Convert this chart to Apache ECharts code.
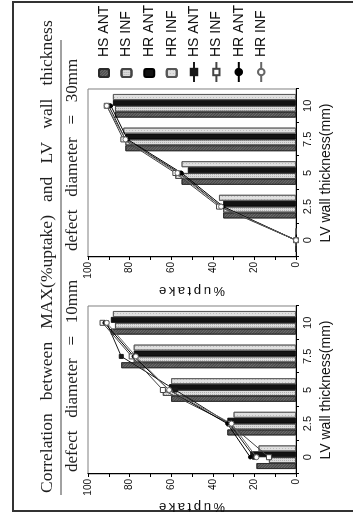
<!DOCTYPE html>
<html>
<head>
<meta charset="utf-8">
<script src="https://cdn.jsdelivr.net/npm/echarts@6/dist/echarts.min.js"></script>
<style>
  html, body { margin: 0; padding: 0; background: #fff; overflow: hidden; width: 353px; height: 515px; }
  /* the figure is laid out landscape and turned a quarter turn to stand upright on the page */
  #page { position: absolute; left: 0; top: 0; width: 515px; height: 353px;
          transform-origin: 0 0; transform: translateY(515px) rotate(-90deg); }
</style>
</head>
<body>
<div id="page"></div>
<script>
// LV wall thickness categories (mm)
const thickness = ['0', '2.5', '5', '7.5', '10'];
const valueLabels = [0, 20, 40, 60, 80, 100];
const groupNames = ['HS ANT', 'HS INF', 'HR ANT', 'HR INF'];

// defect diameter = 10mm : bars
const barHsAnt10 = [19, 33, 60, 84, 89];
const barHsInf10 = [13, 31, 64, 78, 87];
const barHrAnt10 = [22, 33, 61, 78, 89];
const barHrInf10 = [18, 30, 60, 78, 88];
// defect diameter = 10mm : lines
const lineHsAnt10 = [20, 32, 58, 84, 91];
const lineHsInf10 = [13, 32, 64, 79, 93];
const lineHrAnt10 = [22, 33, 61, 78, 92];
const lineHrInf10 = [19, 31, 61, 77, 91];

// defect diameter = 30mm : bars
const barHsAnt30 = [0, 35, 55, 82, 87];
const barHsInf30 = [0, 35, 58, 82, 87];
const barHrAnt30 = [0, 35, 52, 82, 88];
const barHrInf30 = [0, 37, 55, 83, 88];
// defect diameter = 30mm : lines
const lineHsAnt30 = [0, 36, 56, 82, 90];
const lineHsInf30 = [0, 37, 58, 83, 91];
const lineHrAnt30 = [0, 35, 55, 81, 89];
const lineHrInf30 = [0, 36, 57, 82, 91];

const SANS = "'Liberation Sans Narrow', 'Liberation Sans', Arial, sans-serif";
const SERIF = "'Liberation Serif', 'Times New Roman', serif";

const barStyles = [
  { color: '#6e6e6e', borderColor: '#2a2a2a', borderWidth: 0.8,
    decal: { symbol: 'rect', symbolSize: 1, dashArrayX: [1, 0], dashArrayY: [1, 1], rotation: Math.PI / 4, color: 'rgba(20,20,20,0.45)' } },
  { color: '#dcdcdc', borderColor: '#444', borderWidth: 0.8,
    decal: { symbol: 'rect', symbolSize: 1, dashArrayX: [1, 1], dashArrayY: [1, 1], color: 'rgba(80,80,80,0.3)' } },
  { color: '#121212', borderColor: '#000', borderWidth: 0.8 },
  { color: '#e0e0e0', borderColor: '#555', borderWidth: 0.8,
    decal: { symbol: 'rect', symbolSize: 1, dashArrayX: [1, 2], dashArrayY: [1, 2], color: 'rgba(110,110,110,0.3)' } }
];

const lineLooks = [
  { symbol: 'rect', symbolSize: 4, color: '#1a1a1a', fill: '#1a1a1a' },
  { symbol: 'rect', symbolSize: 5, color: '#444', fill: '#fff' },
  { symbol: 'circle', symbolSize: 3.5, color: '#000', fill: '#000' },
  { symbol: 'circle', symbolSize: 5, color: '#666', fill: '#fff' }
];

const barData = [
  [barHsAnt10, barHsInf10, barHrAnt10, barHrInf10],
  [barHsAnt30, barHsInf30, barHrAnt30, barHrInf30]
];
const lineData = [
  [lineHsAnt10, lineHsInf10, lineHrAnt10, lineHrInf10],
  [lineHsAnt30, lineHsInf30, lineHrAnt30, lineHrInf30]
];

const series = [];
[0, 1].forEach(function (g) {
  groupNames.forEach(function (name, i) {
    series.push({
      type: 'bar', name: name, xAxisIndex: g, yAxisIndex: g,
      data: barData[g][i], barGap: '0%', barCategoryGap: '30%',
      itemStyle: barStyles[i], silent: true, z: 2
    });
  });
});
[0, 1].forEach(function (g) {
  groupNames.forEach(function (name, i) {
    const look = lineLooks[i];
    series.push({
      type: 'line', name: name + ' line', xAxisIndex: g, yAxisIndex: g,
      data: lineData[g][i], symbol: look.symbol, symbolSize: look.symbolSize,
      showSymbol: true,
      lineStyle: { color: look.color, width: 1 },
      itemStyle: { color: look.fill, borderColor: look.color, borderWidth: 1 },
      silent: true, z: 5
    });
  });
});

function grid(left) {
  return { left: left, top: 88, width: 168, height: 208, show: true,
           borderColor: '#808080', borderWidth: 1, backgroundColor: 'transparent' };
}
function xAxis(g) {
  return {
    type: 'category', gridIndex: g, data: thickness,
    axisLine: { lineStyle: { color: '#000', width: 1 } },
    axisTick: { show: true, length: 3, lineStyle: { color: '#000' } },
    axisLabel: { margin: 6, fontFamily: SANS, fontSize: 11, color: '#111' },
    name: 'LV wall thickness(mm)', nameLocation: 'middle', nameGap: 23,
    nameTextStyle: { fontFamily: SANS, fontSize: 14, color: '#111' }
  };
}
function yAxis(g, gap) {
  return {
    type: 'value', gridIndex: g, min: 0, max: 100, interval: 10,
    splitLine: { show: false },
    axisLine: { show: true, lineStyle: { color: '#000', width: 1 } },
    axisTick: { show: true, length: 3, lineStyle: { color: '#000' } },
    axisLabel: { margin: 5, fontFamily: SANS, fontSize: 10, color: '#111',
                 formatter: function (v) { return valueLabels.indexOf(v) >= 0 ? String(v) : ''; } },
    name: '%\u2009u\u2009p\u2009t\u2009a\u2009k\u2009e', nameLocation: 'middle', nameGap: gap, nameRotate: 90,
    nameTextStyle: { fontFamily: SANS, fontSize: 13, color: '#111' }
  };
}

const legendText = { fontFamily: SANS, fontSize: 14, lineHeight: 16, color: '#111' };

const option = {
  animation: false,
  backgroundColor: '#fff',
  grid: [grid(41), grid(258)],
  xAxis: [xAxis(0), xAxis(1)],
  yAxis: [yAxis(0, 24), yAxis(1, 27)],
  legend: [
    { data: groupNames, orient: 'vertical', left: 437, top: 96, itemWidth: 8, itemHeight: 10,
      itemGap: 6.6, selectedMode: false, padding: 0,
      textStyle: Object.assign({ padding: [0, 0, 0, 7] }, legendText) },
    { data: groupNames.map(function (n) { return n + ' line'; }), orient: 'vertical', left: 432, top: 186,
      itemWidth: 20, itemHeight: 8, itemGap: 6.4, selectedMode: false, padding: 0,
      formatter: function (n) { return n.replace(' line', ''); },
      textStyle: legendText }
  ],
  graphic: [
    { type: 'rect', silent: true, shape: { x: 4, y: 13, width: 509, height: 360 },
      style: { fill: 'none', stroke: '#333', lineWidth: 2 } },
    { type: 'text', silent: true, x: 22, y: 47,
      style: { text: 'Correlation   between   MAX(%uptake)   and   LV   wall   thickness',
               font: '17.5px ' + SERIF, fill: '#1e1e1e', verticalAlign: 'middle' } },
    { type: 'line', silent: true, shape: { x1: 20, y1: 61, x2: 475, y2: 61 },
      style: { stroke: '#444', lineWidth: 1 } },
    { type: 'text', silent: true, x: 43, y: 73,
      style: { text: 'defect   diameter   =   10mm', font: '17px ' + SERIF, fill: '#1e1e1e', verticalAlign: 'middle' } },
    { type: 'text', silent: true, x: 264, y: 73,
      style: { text: 'defect   diameter   =   30mm', font: '17px ' + SERIF, fill: '#1e1e1e', verticalAlign: 'middle' } }
  ],
  series: series
};

const chart = echarts.init(document.getElementById('page'), null, { renderer: 'canvas', width: 515, height: 353 });
chart.setOption(option);
</script>
</body>
</html>
